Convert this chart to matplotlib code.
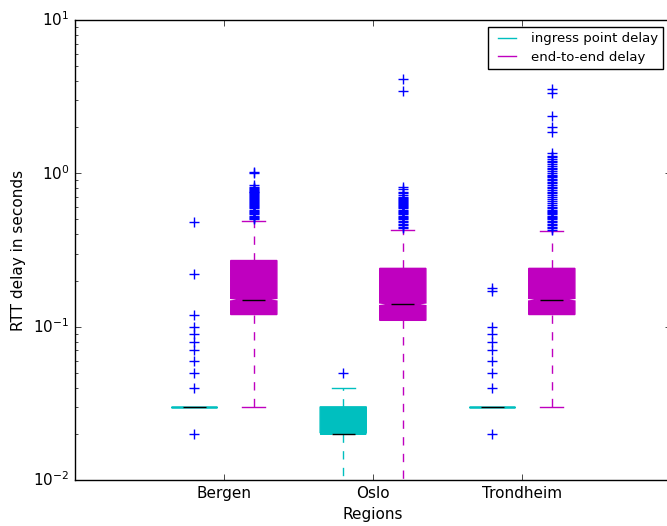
import matplotlib
matplotlib.use("Agg")
import matplotlib.pyplot as plt
from matplotlib.lines import Line2D

plt.style.use("classic")
plt.rcParams["mathtext.fontset"] = "dejavusans"
plt.rcParams["mathtext.default"] = "regular"
plt.rcParams["font.size"] = 11

regions = ["Bergen", "Oslo", "Trondheim"]
series_labels = ["ingress point delay", "end-to-end delay"]
series_colors = ["c", "m"]

# per-region summary statistics (seconds)
ingress_med = [0.03, 0.02, 0.03]
ingress_q1 = [0.03, 0.02, 0.03]
ingress_q3 = [0.03, 0.03, 0.03]
ingress_whislo = [0.03, 0.001, 0.03]
ingress_whishi = [0.03, 0.04, 0.03]
ingress_fliers = [
    [0.02, 0.04, 0.05, 0.06, 0.07, 0.08, 0.09, 0.10, 0.12, 0.22, 0.48],
    [0.05],
    [0.02, 0.04, 0.05, 0.06, 0.07, 0.08, 0.09, 0.10, 0.17, 0.18],
]

e2e_med = [0.15, 0.14, 0.15]
e2e_q1 = [0.12, 0.11, 0.12]
e2e_q3 = [0.27, 0.24, 0.24]
e2e_whislo = [0.03, 0.001, 0.03]
e2e_whishi = [0.49, 0.43, 0.42]
e2e_fliers = [
    [0.50, 0.51, 0.52, 0.53, 0.54, 0.55, 0.56, 0.57, 0.58, 0.59, 0.60,
     0.61, 0.62, 0.63, 0.64, 0.65, 0.66, 0.67, 0.68, 0.69, 0.70, 0.71,
     0.72, 0.73, 0.74, 0.75, 0.76, 0.77, 0.78, 0.79, 0.80, 0.82, 0.84,
     1.00, 1.02],
    [0.44, 0.45, 0.46, 0.47, 0.48, 0.49, 0.50, 0.51, 0.52, 0.53, 0.54,
     0.55, 0.56, 0.57, 0.58, 0.59, 0.60, 0.61, 0.62, 0.63, 0.64, 0.65,
     0.66, 0.67, 0.68, 0.69, 0.70, 0.72, 0.74, 0.76, 0.79, 0.82, 3.45,
     4.15],
    [0.43, 0.44, 0.45, 0.46, 0.47, 0.48, 0.49, 0.50, 0.51, 0.52, 0.53,
     0.54, 0.55, 0.56, 0.57, 0.58, 0.59, 0.60, 0.62, 0.64, 0.66, 0.68,
     0.70, 0.72, 0.74, 0.76, 0.78, 0.80, 0.82, 0.84, 0.86, 0.88, 0.90,
     0.92, 0.94, 0.96, 0.98, 1.00, 1.03, 1.06, 1.09, 1.12, 1.15, 1.18,
     1.21, 1.24, 1.27, 1.30, 1.35, 1.87, 2.00, 2.35, 3.35, 3.55],
]


def make_stats(med, q1, q3, lo, hi, fliers):
    # narrow notch around the median, kept inside the box
    return [dict(med=m, q1=a, q3=b, whislo=l, whishi=h, fliers=f,
                 cilo=max(a, m * 0.98), cihi=min(b, m * 1.02))
            for m, a, b, l, h, f in zip(med, q1, q3, lo, hi, fliers)]


fig = plt.figure(figsize=(6.67, 5.26), dpi=100, facecolor="white")
ax = fig.add_axes([75 / 667, 46 / 526, 596 / 667, 460 / 526])

groups = [
    make_stats(ingress_med, ingress_q1, ingress_q3, ingress_whislo,
               ingress_whishi, ingress_fliers),
    make_stats(e2e_med, e2e_q1, e2e_q3, e2e_whislo, e2e_whishi, e2e_fliers),
]
offsets = [-0.2, 0.2]

for stats, off, col in zip(groups, offsets, series_colors):
    pos = [i + 1 + off for i in range(len(regions))]
    ax.bxp(stats, positions=pos, widths=0.31, shownotches=True,
           patch_artist=True, manage_ticks=False,
           boxprops=dict(facecolor=col, edgecolor=col),
           whiskerprops=dict(color=col, linestyle="--"),
           capprops=dict(color=col),
           medianprops=dict(color="k"),
           flierprops=dict(marker="+", markeredgecolor="b",
                           markerfacecolor="b", markersize=7,
                           linestyle="none"))

ax.set_yscale("log")
ax.set_ylim(0.01, 10)
ax.set_xlim(0, 4)
ax.set_xticks([1, 2, 3])
ax.set_xticklabels(regions)
ax.set_xlabel("Regions", labelpad=5)
ax.set_ylabel("RTT delay in seconds", labelpad=5)

handles = [Line2D([], [], color=c) for c in series_colors]
ax.legend(handles, series_labels, loc="upper right",
          bbox_to_anchor=(588 / 596, 453 / 460), borderaxespad=0,
          fontsize=9.5, handlelength=2.0, handletextpad=0.8,
          borderpad=0.4, labelspacing=0.4)

fig.savefig("out.png", dpi=100, facecolor="white")
